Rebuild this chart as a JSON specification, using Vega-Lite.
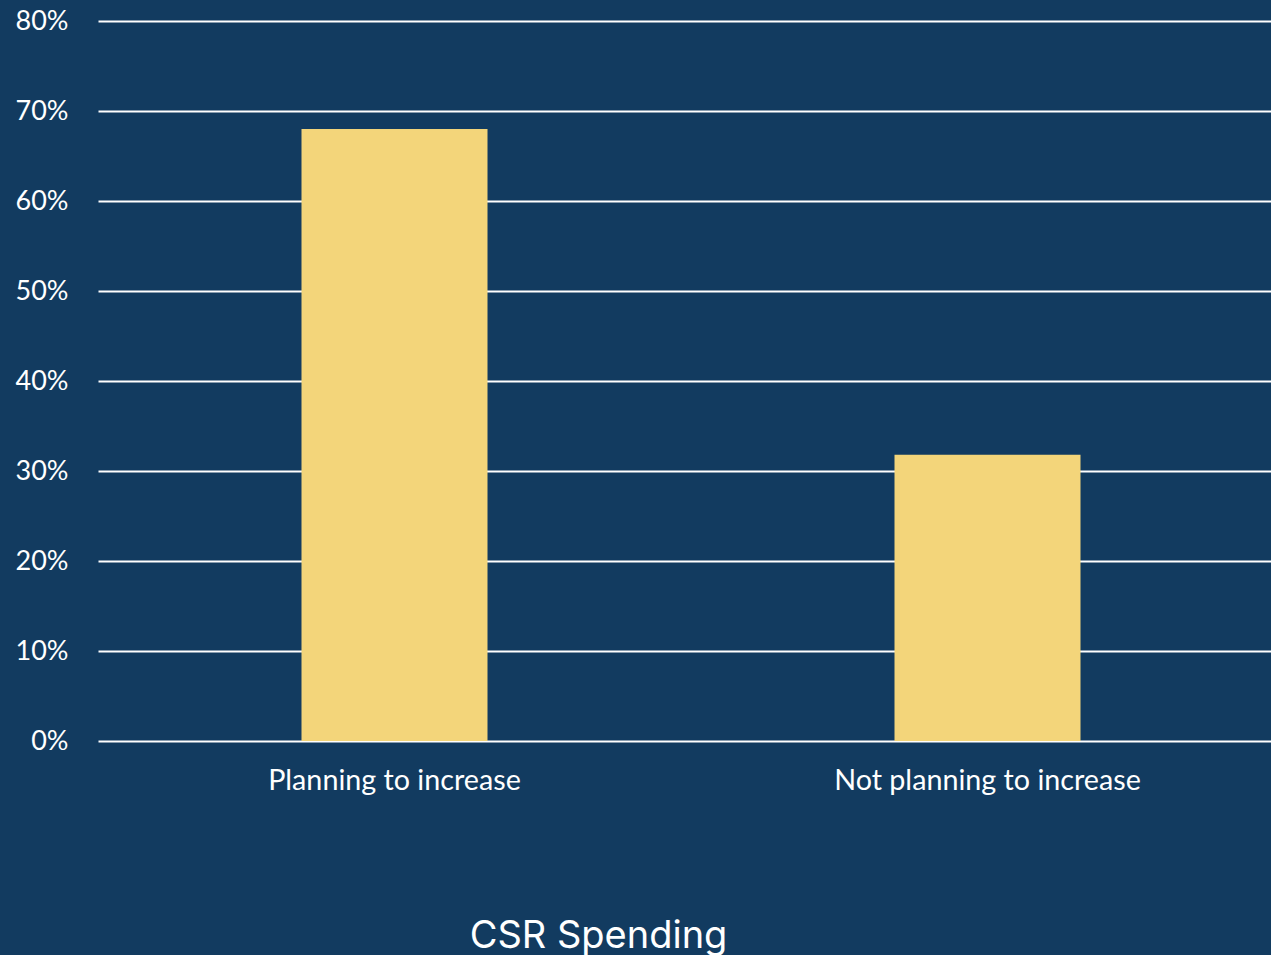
{
  "$schema": "https://vega.github.io/schema/vega-lite/v6.json",
  "autosize": {"type": "none"},
  "padding": {"left": 98, "top": 21, "right": 0, "bottom": 214},
  "width": 1186,
  "height": 720,
  "background": "#123B60",
  "config": {"view": {"stroke": null}},
  "data": {"values": [
    {"category": "Planning to increase", "share": 0.68},
    {"category": "Not planning to increase", "share": 0.318}
  ]},
  "mark": {"type": "bar", "color": "#F3D57A", "width": 186},
  "encoding": {
    "x": {
      "field": "category", "type": "nominal", "sort": null,
      "scale": {"paddingInner": 0, "paddingOuter": 0},
      "title": "CSR Spending",
      "axis": {
        "labelAngle": 0, "labelFont": "Lato", "labelFontSize": 28.7, "labelColor": "#FFFFFF",
        "labelPadding": 25, "labelLimit": 0, "ticks": false, "domain": false,
        "titleFont": "Inter", "titleFontSize": 38, "titleFontWeight": "normal", "titleColor": "#FFFFFF",
        "titleX": 500, "titleY": 206, "titleAlign": "center", "titleBaseline": "alphabetic"
      }
    },
    "y": {
      "field": "share", "type": "quantitative",
      "scale": {"domain": [0, 0.8], "nice": false},
      "title": null,
      "axis": {
        "format": ".0%", "values": [0, 0.1, 0.2, 0.3, 0.4, 0.5, 0.6, 0.7, 0.8],
        "labelFont": "Lato", "labelFontSize": 27, "labelColor": "#FFFFFF", "labelPadding": 30,
        "ticks": false, "domain": false, "grid": true, "gridColor": "#FFFFFF", "gridWidth": 2, "gridOpacity": 1
      }
    }
  }
}
